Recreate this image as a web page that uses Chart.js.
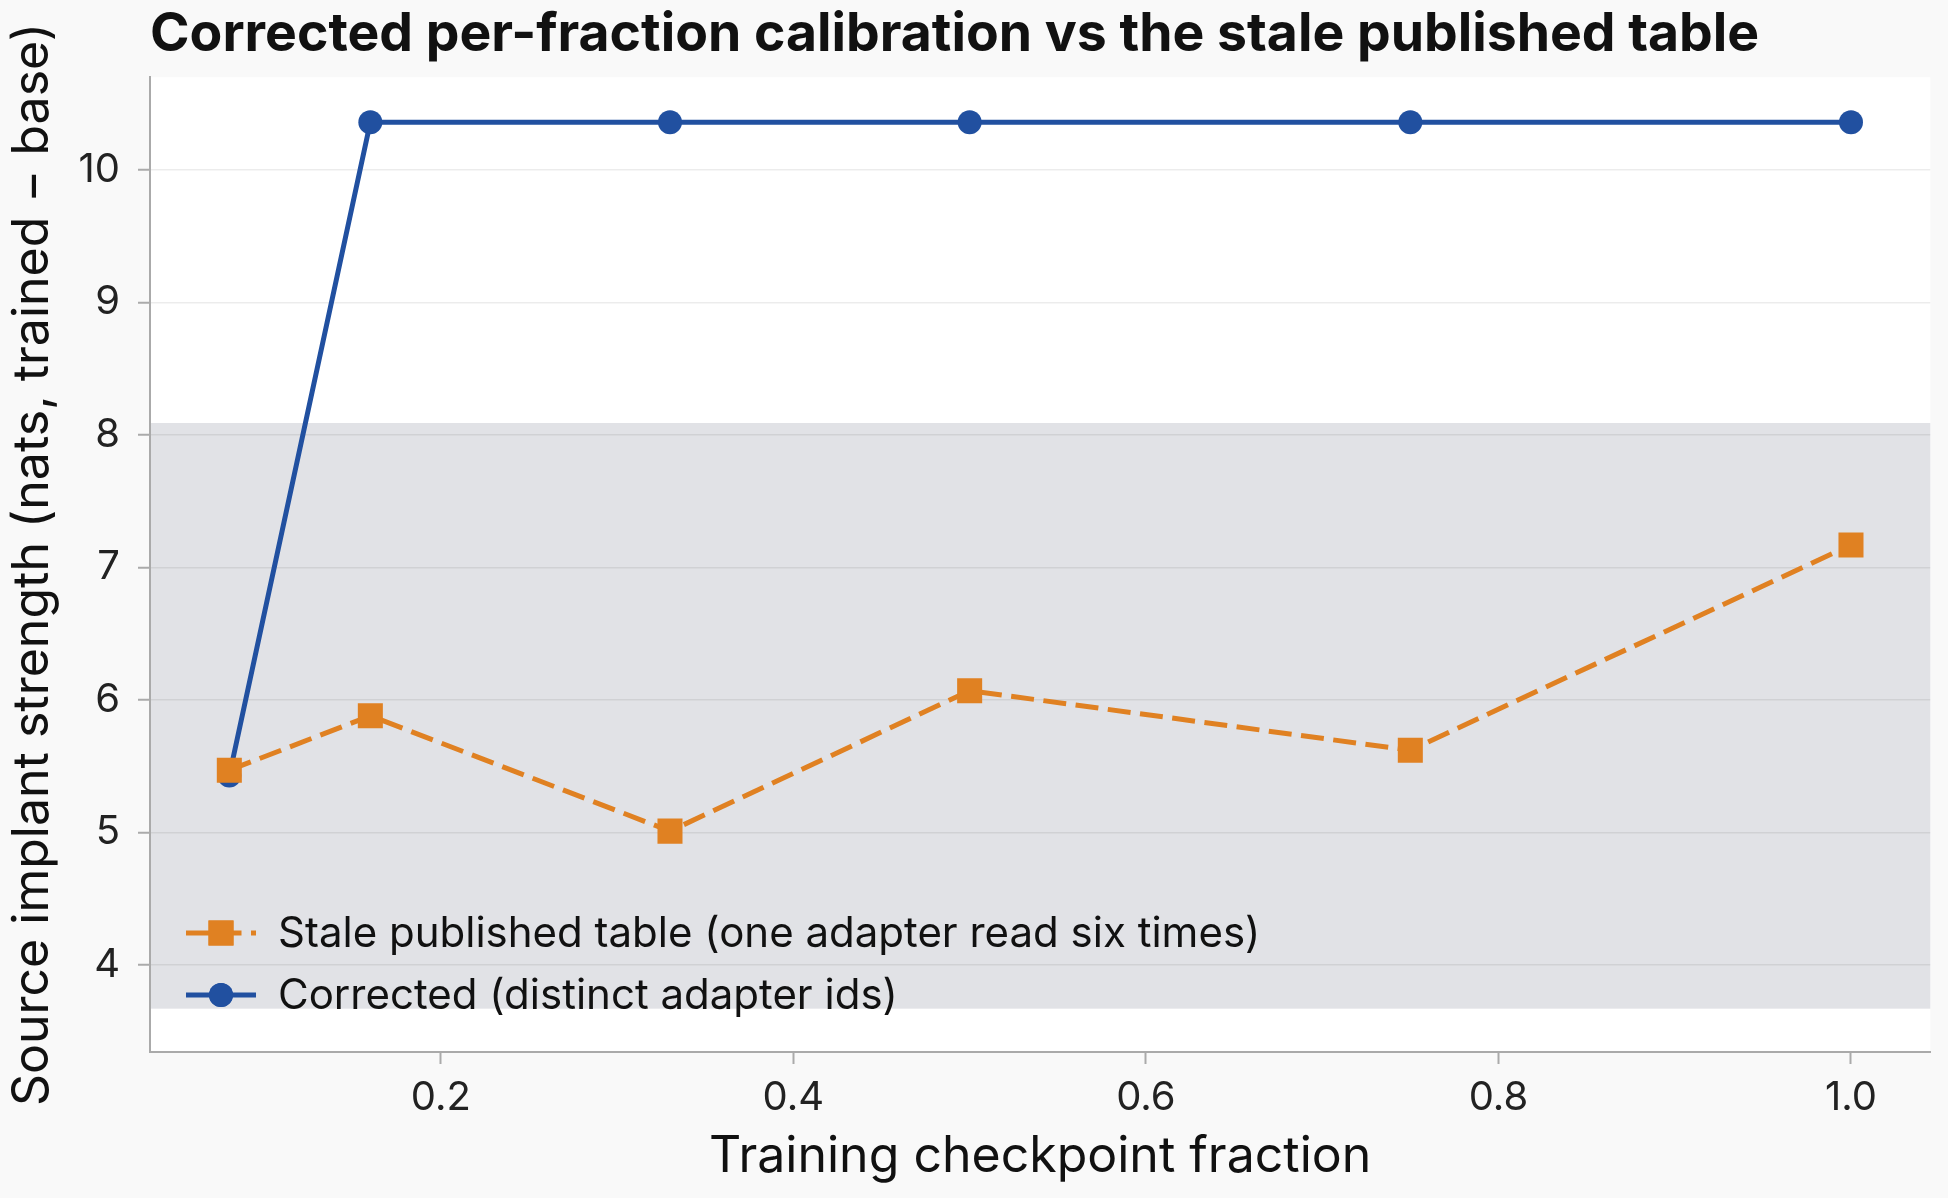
<!DOCTYPE html>
<html>
<head>
<meta charset="utf-8">
<script src="https://cdn.jsdelivr.net/npm/chart.js@4/dist/chart.umd.min.js"></script>
<style>
  html, body { margin: 0; padding: 0; background: #f9f9f9; }
  #wrap { width: 1948px; height: 1198px; }
</style>
</head>
<body>
<div id="wrap"><canvas id="chart" width="1948" height="1198"></canvas></div>
<script>
const fractions = [0.08, 0.16, 0.33, 0.5, 0.75, 1.0];
const staleValues = [5.47, 5.88, 5.01, 6.07, 5.62, 7.17];
const correctedValues = [5.43, 10.36, 10.36, 10.36, 10.36, 10.36];
const bandRange = [3.67, 8.09];
const xTicks = [0.2, 0.4, 0.6, 0.8, 1.0];
const yTicks = [4, 5, 6, 7, 8, 9, 10];

const staleLabel = 'Stale published table (one adapter read six times)';
const correctedLabel = 'Corrected (distinct adapter ids)';

const ORANGE = '#e08122';
const BLUE = '#2150a0';
const FONT = 'Inter, "DejaVu Sans", sans-serif';
const STALE_DASH = [23, 9.5];

// white plot area + shaded band behind the grid
const backdrop = {
    id: 'backdrop',
    beforeDraw(chart) {
        const { ctx, chartArea: a, scales: { y } } = chart;
        ctx.save();
        ctx.fillStyle = '#f9f9f9';
        ctx.fillRect(0, 0, chart.width, chart.height);
        ctx.fillStyle = '#ffffff';
        ctx.fillRect(a.left, a.top, a.right - a.left, a.bottom - a.top);
        const top = y.getPixelForValue(bandRange[1]);
        const bot = y.getPixelForValue(bandRange[0]);
        ctx.fillStyle = '#e1e2e6';
        ctx.fillRect(a.left, top, a.right - a.left, bot - top);
        ctx.restore();
    }
};

// legend drawn inside the plot, lower left
const insideLegend = {
    id: 'insideLegend',
    afterDraw(chart) {
        const { ctx, chartArea: a } = chart;
        const rows = [
            { label: staleLabel, color: ORANGE, dash: STALE_DASH, style: 'rect', r: 17.7 },
            { label: correctedLabel, color: BLUE, dash: [], style: 'circle', r: 12 }
        ];
        ctx.save();
        ctx.font = '42px ' + FONT;
        ctx.textBaseline = 'middle';
        rows.forEach((row, i) => {
            const yy = a.bottom - 119 + i * 62;
            const x0 = a.left + 36;
            ctx.strokeStyle = row.color;
            ctx.lineWidth = 5;
            ctx.setLineDash(row.dash);
            ctx.beginPath();
            ctx.moveTo(x0, yy);
            ctx.lineTo(x0 + 70, yy);
            ctx.stroke();
            ctx.setLineDash([]);
            ctx.fillStyle = row.color;
            Chart.helpers.drawPoint(ctx, { pointStyle: row.style, radius: row.r, rotation: 0, borderWidth: 0 }, x0 + 35, yy);
            ctx.fill();
            ctx.fillStyle = '#111111';
            ctx.fillText(row.label, a.left + 128, yy + 1);
        });
        ctx.restore();
    }
};

new Chart(document.getElementById('chart'), {
    type: 'line',
    data: {
        datasets: [
            {
                label: staleLabel,
                data: fractions.map((f, i) => ({ x: f, y: staleValues[i] })),
                borderColor: ORANGE,
                backgroundColor: ORANGE,
                borderWidth: 5,
                borderDash: STALE_DASH,
                pointStyle: 'rect',
                pointRadius: 17.7,
                pointHoverRadius: 17.7,
                pointBorderWidth: 0,
                tension: 0
            },
            {
                label: correctedLabel,
                data: fractions.map((f, i) => ({ x: f, y: correctedValues[i] })),
                borderColor: BLUE,
                backgroundColor: BLUE,
                borderWidth: 5,
                pointStyle: 'circle',
                pointRadius: 12,
                pointHoverRadius: 12,
                pointBorderWidth: 0,
                tension: 0
            }
        ]
    },
    options: {
        responsive: false,
        animation: false,
        devicePixelRatio: 1,
        layout: { padding: { top: 3, right: 6, left: 7.5, bottom: 16 } },
        plugins: {
            legend: { display: false },
            tooltip: { enabled: false },
            title: {
                display: true,
                text: 'Corrected per-fraction calibration vs the stale published table',
                align: 'start',
                fullSize: false,
                color: '#111111',
                font: { family: FONT, size: 53.5, weight: '700' },
                padding: { top: 0, bottom: 10 }
            }
        },
        scales: {
            x: {
                type: 'linear',
                min: 0.035,
                max: 1.045,
                afterBuildTicks: s => { s.ticks = xTicks.map(v => ({ value: v })); },
                afterFit: s => { s.paddingRight = 0; s.paddingLeft = 0; },
                ticks: {
                    callback: v => v.toFixed(1),
                    color: '#222222',
                    font: { family: FONT, size: 40 },
                    padding: 10,
                    maxRotation: 0
                },
                grid: {
                    drawOnChartArea: false,
                    tickLength: 12,
                    tickColor: '#aaaaaa',
                    tickWidth: 2
                },
                border: { color: '#aaaaaa', width: 2 },
                title: {
                    display: true,
                    text: 'Training checkpoint fraction',
                    color: '#111111',
                    font: { family: FONT, size: 50, lineHeight: 1 },
                    padding: { top: 0, bottom: 0 }
                }
            },
            y: {
                type: 'linear',
                min: 3.343,
                max: 10.7,
                afterBuildTicks: s => { s.ticks = yTicks.map(v => ({ value: v })); },
                afterFit: s => { s.paddingRight = 0; },
                ticks: {
                    callback: v => String(v),
                    color: '#222222',
                    font: { family: FONT, size: 40 },
                    padding: 18
                },
                grid: {
                    color: 'rgba(0,0,0,0.075)',
                    lineWidth: 1.5,
                    tickLength: 12,
                    tickColor: '#aaaaaa',
                    tickWidth: 2
                },
                border: { color: '#aaaaaa', width: 2 },
                title: {
                    display: true,
                    text: 'Source implant strength (nats, trained − base)',
                    color: '#111111',
                    font: { family: FONT, size: 50, lineHeight: 1 },
                    padding: { top: 0, bottom: 3 }
                }
            }
        }
    },
    plugins: [backdrop, insideLegend]
});
</script>
</body>
</html>
